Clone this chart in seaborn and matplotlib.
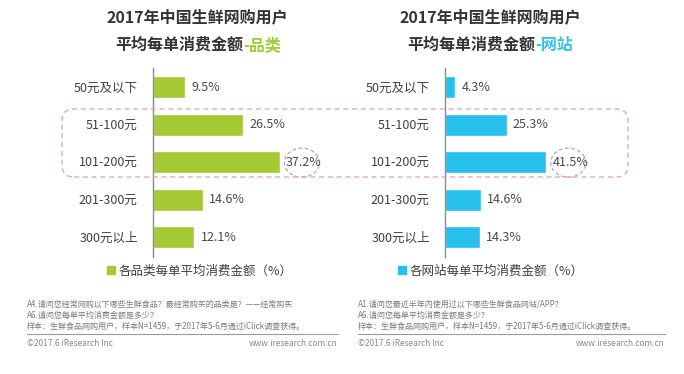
import matplotlib
matplotlib.use('Agg')
import matplotlib.pyplot as plt
import seaborn as sns
from matplotlib.patches import Patch, Ellipse, FancyBboxPatch
from matplotlib.transforms import ScaledTranslation
from matplotlib.lines import Line2D

# data
categories = ['50元及以下', '51-100元', '101-200元', '201-300元', '300元以上']
category_share = [9.5, 26.5, 37.2, 14.6, 12.1]
site_share = [4.3, 25.3, 41.5, 14.6, 14.3]
title_line1 = '2017年中国生鲜网购用户'
title_line2 = '平均每单消费金额'
left_tag = '-品类'
right_tag = '-网站'
left_legend = '各品类每单平均消费金额（%）'
right_legend = '各网站每单平均消费金额（%）'
left_notes = ['A4.请问您经常网购以下哪些生鲜食品？最经常购买的品类是？——经常购买',
              'A6.请问您每单平均消费金额是多少？',
              '样本：生鲜食品网购用户，样本N=1459，于2017年5-6月通过iClick调查获得。']
right_notes = ['A1.请问您最近半年内使用过以下哪些生鲜食品网站/APP？',
               'A6.请问您每单平均消费金额是多少？',
               '样本：生鲜食品网购用户，样本N=1459，于2017年5-6月通过iClick调查获得。']

GREEN = '#a4c932'
BLUE = '#27bfeb'
W, H = 684, 374

sns.set_theme(style='white')
plt.rcParams['font.family'] = ['Noto Sans CJK SC', 'DejaVu Sans']

fig = plt.figure(figsize=(W / 100, H / 100), dpi=100)


def px(x, y):
    # pixel (from top-left) -> figure fraction
    return x / W, 1 - y / H


def panel(left_px, xmax, values, color, tag, tag_color, split_px, title_cx,
          legend_text, legend_cx, notes, note_x, note_right):
    ax = fig.add_axes([left_px / W, 1 - 257 / H, 180 / W, 189 / H])
    sns.barplot(x=values, y=categories, color=color, saturation=1,
                width=0.59, orient='h', ax=ax)
    ax.set_xlim(0, xmax)
    ax.set_ylim(4.53, -0.51)
    for s in ['top', 'right', 'bottom']:
        ax.spines[s].set_visible(False)
    ax.spines['left'].set_color('#8a8a8a')
    ax.spines['left'].set_linewidth(1)
    ax.set_xticks([])
    ax.set_xlabel('')
    ax.set_ylabel('')
    ax.tick_params(axis='y', length=0, pad=11, labelsize=9, labelcolor='#404040')
    ax.patch.set_alpha(0)
    ax.bar_label(ax.containers[0], labels=[f'{v}%' for v in values],
                 padding=4.5, fontsize=9, color='#4a4a4a')

    # dashed ellipse round the biggest value
    i = values.index(max(values))
    tr = fig.dpi_scale_trans + ScaledTranslation(values[i], i, ax.transData)
    ax.add_artist(Ellipse((0.22, -0.005), 0.35, 0.29, transform=tr, fill=False,
                          ec='#c9a0a8', ls=(0, (3, 2)), lw=0.9, clip_on=False))

    # titles
    fig.text(*px(title_cx, 17), title_line1, ha='center', va='center',
             fontsize=11.5, fontweight='bold', color='#333333')
    fig.text(*px(split_px, 45), title_line2, ha='right', va='center',
             fontsize=11.5, fontweight='bold', color='#333333')
    fig.text(*px(split_px, 45), tag, ha='left', va='center',
             fontsize=11.5, fontweight='bold', color=tag_color)

    # legend
    fig.legend(handles=[Patch(color=color, label=legend_text)], loc='center',
               bbox_to_anchor=px(legend_cx, 271), frameon=False, fontsize=9,
               handlelength=0.6, handleheight=0.6, handletextpad=0.35,
               labelcolor='#404040', borderpad=0)

    # footnotes
    for k, line in enumerate(notes):
        fig.text(*px(note_x, 304 + 11 * k), line, ha='left', va='center',
                 fontsize=5.8, color='#7a7a7a')
    fig.add_artist(Line2D([note_x / W, note_right / W], [1 - 334 / H] * 2,
                          color='#9a9a9a', lw=0.8))
    fig.text(*px(note_x, 343), '©2017.6 iResearch Inc', ha='left', va='center',
             fontsize=6, color='#8a8a8a')
    fig.text(*px(note_right, 343), 'www.iresearch.com.cn', ha='right', va='center',
             fontsize=6, color='#8a8a8a')
    return ax


panel(153, 180 / 3.41, category_share, GREEN, left_tag, '#9ccc3a', 243, 197,
      left_legend, 200, left_notes, 27, 338)
panel(445, 180 / 2.44, site_share, BLUE, right_tag, '#36c0ee', 535, 490,
      right_legend, 491, right_notes, 358, 665)

# dashed rounded box round the 51-200 rows of both panels
fig.patches.append(FancyBboxPatch((0.62, (H - 177) / 100), 5.66, 0.68,
                                  boxstyle='round,pad=0,rounding_size=0.12',
                                  transform=fig.dpi_scale_trans, fill=False,
                                  ec='#d9a3ab', ls=(0, (4, 3)), lw=0.9))

fig.savefig('out.png', dpi=100, facecolor='white')
